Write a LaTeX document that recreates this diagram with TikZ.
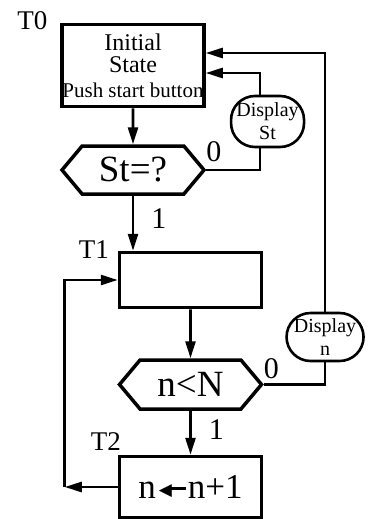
\documentclass[tikz,border=0pt]{standalone}
\usepackage{fontspec}
\setmainfont{Liberation Serif}
\newfontfamily\symfont{DejaVu Sans}
\usetikzlibrary{positioning,arrows.meta,shapes.symbols}
\newcommand\assignarrow{\raisebox{3.5pt}{\symfont\fontsize{17}{17}\selectfont ◀}\kern-3pt\rule[8.5pt]{17pt}{3pt}}

\begin{document}
\begin{tikzpicture}[x=1pt,y=1pt,
    every node/.style={align=center,inner sep=0pt},
    stbox/.style={draw,line width=3.5pt,rectangle,minimum width=142pt},
    hexbox/.style={draw,line width=3.5pt,signal,signal to=east and west,signal pointer angle=100,
                   minimum width=142pt,minimum height=48pt,font=\fontsize{37}{40}\selectfont},
    dispbox/.style={draw,line width=2.6pt,rectangle,rounded corners=24pt,
                    font=\fontsize{20}{23}\selectfont},
    tlbl/.style={font=\fontsize{27}{30}\selectfont},
    vlbl/.style={font=\fontsize{30}{32}\selectfont},
    arr/.style={line width=2.6pt,-{Triangle[length=17pt,width=10pt]}},
    ln/.style={line width=2.6pt}]
  \useasboundingbox (0,0) rectangle (371,-519);

  % states and tests
  \node[stbox,minimum height=82pt,font=\fontsize{24}{22}\selectfont] (init) at (133,-65.5)
       {Initial\\State\\[3pt]{\fontsize{21}{22}\selectfont Push start button}};
  \node[hexbox,below=36pt of init] (st) {St=?};
  \node[stbox,minimum height=55pt,below=55pt of st,xshift=57.5pt] (t1) {};
  \node[hexbox,below=49pt of t1,minimum height=49pt] (nN) {n<N};
  \node[stbox,minimum height=61pt,below=44pt of nN,
        font=\fontsize{35}{38}\selectfont] (t2) {n\kern3pt\assignarrow\kern2pt n+1};
  \node[dispbox,minimum width=73pt,minimum height=51pt,right=24pt of init,yshift=-56pt] (dst) {Display\\St};
  \node[dispbox,minimum width=77pt,minimum height=48pt,right=22pt of t1,yshift=-57pt] (dn) {Display\\n};

  % time labels
  \node[tlbl] (l0) at ([shift={(-28pt,2pt)}]init.north west) {T0};
  \node[tlbl] (l1) at ([shift={(-24pt,1pt)}]t1.north west) {T1};
  \node[tlbl] (l2) at ([shift={(-12pt,13pt)}]t2.north west) {T2};

  % flow
  \draw[arr] (init) -- (st);
  \draw[arr] (st.south) -- (st.south |- t1.north) node[vlbl,pos=0.42,right=17pt] (o1) {1};
  \draw[ln] (st.east) -| ([xshift=-7.5pt]dst.south);
  \node[vlbl,above right=8pt and 0pt of st.east] (z1) {0};
  \draw[arr] ([xshift=-7.5pt]dst.north) |- ([yshift=-7.5pt]init.east);
  \draw[arr] (t1) -- (nN);
  \draw[arr] (nN) -- (t2) node[vlbl,pos=0.43,right=17pt] (o2) {1};
  \draw[ln] (nN.east) -| (dn.south);
  \node[vlbl,above right=6pt and 0pt of nN.east] (z2) {0};
  \draw[arr] (dn.north) |- ([yshift=12.5pt]init.east);
  \coordinate[left=53pt of t2.west] (fb);
  \draw[arr] (t2.west) -- (fb);
  \draw[arr] (fb) |- (t1.west);
\end{tikzpicture}
\end{document}
